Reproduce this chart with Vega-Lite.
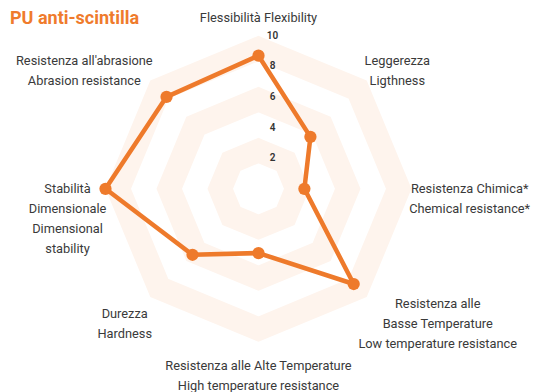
{
  "$schema": "https://vega.github.io/schema/vega-lite/v6.json",
  "width": 534,
  "height": 362,
  "padding": {"top": 30, "left": 0, "right": 0, "bottom": 0},
  "autosize": "none",
  "background": "white",
  "config": {"view": {"stroke": null}},
  "title": {
    "text": "PU anti-scintilla",
    "anchor": "start",
    "frame": "group",
    "dx": 10,
    "dy": 30,
    "offset": 0,
    "baseline": "alphabetic",
    "fontSize": 18,
    "fontWeight": "bold",
    "font": "Liberation Sans Narrow, Roboto",
    "color": "#ef7b2c"
  },
  "datasets": {
    "axes": [
      {"k": 0, "label": "Flessibilità Flexibility", "value": 8.7},
      {"k": 1, "label": "Leggerezza\nLigthness", "value": 4.8},
      {"k": 2, "label": "Resistenza Chimica*\nChemical resistance*", "value": 3.0},
      {"k": 3, "label": "Resistenza alle\nBasse Temperature\nLow temperature resistance", "value": 8.8},
      {"k": 4, "label": "Resistenza alle Alte Temperature\nHigh temperature resistance", "value": 4.2},
      {"k": 5, "label": "Durezza\nHardness", "value": 6.1},
      {"k": 6, "label": "Stabilità\nDimensionale\nDimensional\nstability", "value": 10},
      {"k": 7, "label": "Resistenza all'abrasione\nAbrasion resistance", "value": 8.5}
    ],
    "rings": [
      {"ring": 9.167, "k": 0}, {"ring": 9.167, "k": 1}, {"ring": 9.167, "k": 2}, {"ring": 9.167, "k": 3},
      {"ring": 9.167, "k": 4}, {"ring": 9.167, "k": 5}, {"ring": 9.167, "k": 6}, {"ring": 9.167, "k": 7},
      {"ring": 5.833, "k": 0}, {"ring": 5.833, "k": 1}, {"ring": 5.833, "k": 2}, {"ring": 5.833, "k": 3},
      {"ring": 5.833, "k": 4}, {"ring": 5.833, "k": 5}, {"ring": 5.833, "k": 6}, {"ring": 5.833, "k": 7},
      {"ring": 2.5, "k": 0}, {"ring": 2.5, "k": 1}, {"ring": 2.5, "k": 2}, {"ring": 2.5, "k": 3},
      {"ring": 2.5, "k": 4}, {"ring": 2.5, "k": 5}, {"ring": 2.5, "k": 6}, {"ring": 2.5, "k": 7}
    ],
    "ticks": [
      {"tick": 2}, {"tick": 4}, {"tick": 6}, {"tick": 8}, {"tick": 10}
    ]
  },
  "resolve": {"scale": {"x": "shared", "y": "shared"}},
  "layer": [
    {
      "data": {"name": "rings"},
      "transform": [
        {"calculate": "datum.ring * sin(datum.k * PI / 4)", "as": "x"},
        {"calculate": "datum.ring * cos(datum.k * PI / 4)", "as": "y"}
      ],
      "mark": {"type": "line", "interpolate": "linear-closed", "stroke": "#fef4ed", "strokeWidth": 23.6, "strokeJoin": "miter", "strokeMiterLimit": 1.2},
      "encoding": {
        "x": {"field": "x", "type": "quantitative", "scale": {"domain": [-16.895, 18.007], "nice": false, "zero": false}, "axis": null},
        "y": {"field": "y", "type": "quantitative", "scale": {"domain": [-13.281, 10.379], "nice": false, "zero": false}, "axis": null},
        "detail": {"field": "ring", "type": "nominal"},
        "order": {"field": "k", "type": "quantitative"}
      }
    },
    {
      "data": {"name": "ticks"},
      "mark": {"type": "text", "dx": 14, "fontSize": 10, "fontWeight": 600, "font": "Roboto", "color": "#333333", "baseline": "middle", "align": "center"},
      "encoding": {
        "x": {"datum": 0, "type": "quantitative"},
        "y": {"field": "tick", "type": "quantitative"},
        "text": {"field": "tick", "type": "quantitative"}
      }
    },
    {
      "data": {"name": "axes"},
      "transform": [
        {"calculate": "datum.value * sin(datum.k * PI / 4)", "as": "x"},
        {"calculate": "datum.value * cos(datum.k * PI / 4)", "as": "y"}
      ],
      "mark": {"type": "line", "interpolate": "linear-closed", "stroke": "#ee7a2b", "strokeWidth": 4.5, "strokeJoin": "round"},
      "encoding": {
        "x": {"field": "x", "type": "quantitative"},
        "y": {"field": "y", "type": "quantitative"},
        "order": {"field": "k", "type": "quantitative"}
      }
    },
    {
      "data": {"name": "axes"},
      "transform": [
        {"calculate": "datum.value * sin(datum.k * PI / 4)", "as": "x"},
        {"calculate": "datum.value * cos(datum.k * PI / 4)", "as": "y"}
      ],
      "mark": {"type": "point", "filled": true, "opacity": 1, "color": "#ee7a2b", "size": 150, "shape": "circle"},
      "encoding": {
        "x": {"field": "x", "type": "quantitative"},
        "y": {"field": "y", "type": "quantitative"}
      }
    },
    {
      "data": {"name": "axes"},
      "transform": [
        {"calculate": "split(datum.label, '\\n')", "as": "lines"},
        {"calculate": "max(length(datum.lines[0]), length(datum.lines[1] || ''), length(datum.lines[2] || ''), length(datum.lines[3] || ''))", "as": "nchar"},
        {"calculate": "sin(datum.k * PI / 4)", "as": "s"},
        {"calculate": "cos(datum.k * PI / 4)", "as": "c"},
        {"calculate": "10.5 * datum.s + (abs(datum.s) > 0.1 ? (datum.s > 0 ? 1 : -1) * datum.nchar * 0.165 : 0)", "as": "lx"},
        {"calculate": "abs(datum.c) > 0.1 ? 11.7 * datum.c - 0.55 + (length(datum.lines) - 1) * 0.654 : 0", "as": "ly"}
      ],
      "mark": {"type": "text", "lineBreak": "\n", "lineHeight": 20, "fontSize": 12.8, "font": "Liberation Sans Narrow, Roboto", "color": "#3a3a3a", "align": "center", "baseline": "middle"},
      "encoding": {
        "x": {"field": "lx", "type": "quantitative"},
        "y": {"field": "ly", "type": "quantitative"},
        "text": {"field": "label", "type": "nominal"}
      }
    }
  ]
}
